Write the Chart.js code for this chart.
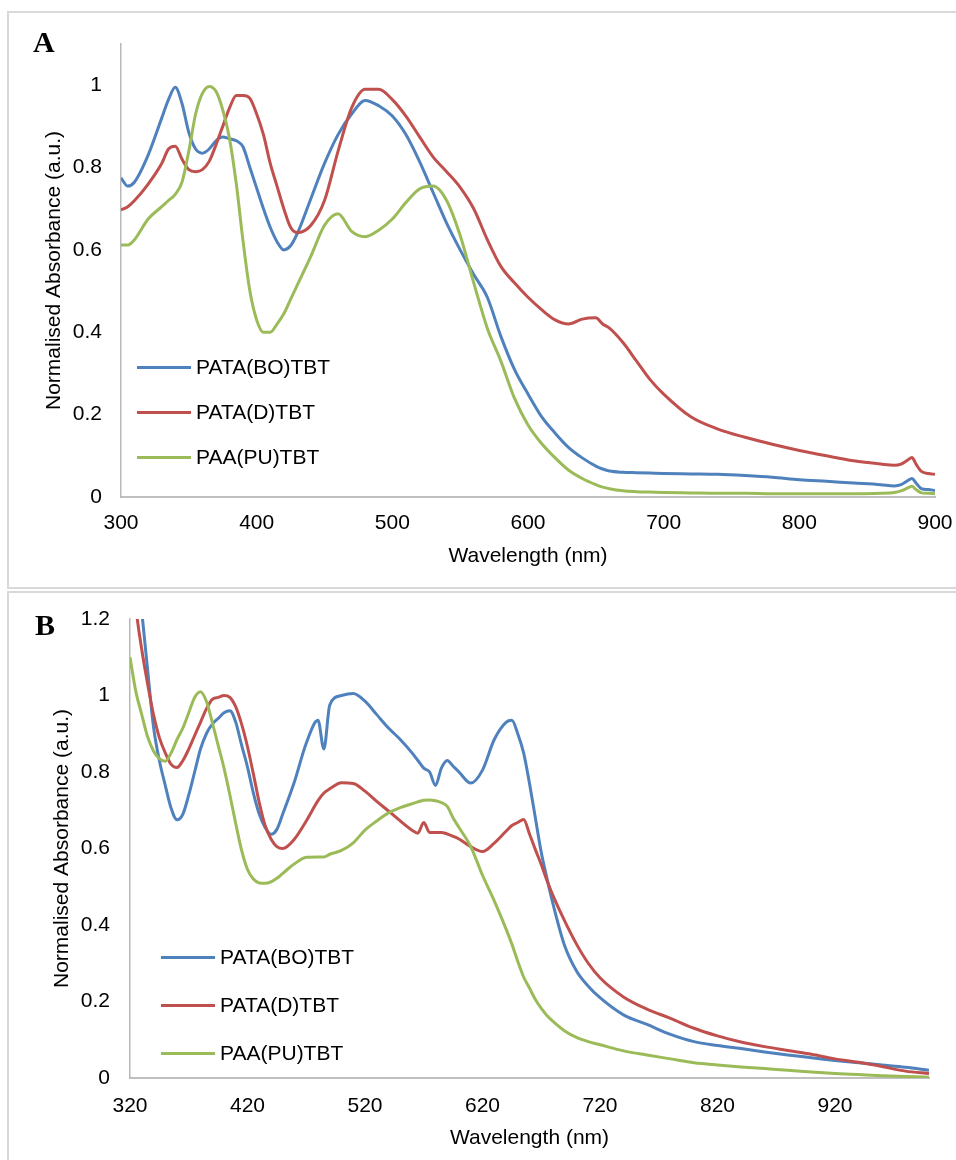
<!DOCTYPE html>
<html>
<head>
<meta charset="utf-8">
<script src="https://cdn.jsdelivr.net/npm/chart.js@4.4.0/dist/chart.umd.min.js"></script>
<style>
  body { margin: 0; width: 956px; height: 1160px; overflow: hidden; background: #fff; position: relative;
         font-family: "Liberation Sans", Arial, sans-serif; }
  .painel { position: absolute; left: 7px; width: 1000px; border: 2px solid #d9d9d9; }
  #painelA { top: 11px; height: 574px; }
  #painelB { top: 591px; height: 700px; }
  canvas { position: absolute; left: 0; }
  .letra { position: absolute; font-family: "Liberation Serif", "Times New Roman", serif; font-weight: bold;
           font-size: 30px; line-height: 30px; }
  .item { position: absolute; display: flex; align-items: center; height: 26px; font-size: 21px; white-space: nowrap; color: #000; }
  .item .linha { display: inline-block; width: 54px; height: 3px; margin-right: 5px; }
</style>
</head>
<body>
<div class="painel" id="painelA"></div>
<div class="painel" id="painelB"></div>
<canvas id="graficoA" width="956" height="590" style="top:0px"></canvas>
<canvas id="graficoB" width="956" height="570" style="top:590px"></canvas>
<div class="letra" style="left:33px; top:27px">A</div>
<div class="letra" style="left:35px; top:610px">B</div>
<div id="legendaA"></div>
<div id="legendaB"></div>

<script>
// nomes e cores das series
var nomes = ['PATA(BO)TBT', 'PATA(D)TBT', 'PAA(PU)TBT'];
var cores = ['#4F81BD', '#C0504D', '#9BBB59'];

// ---- Painel A ----
var comprimentoA = [300,305,310,320,330,335,340,345,350,355,360,365,370,375,380,385,390,395,400,405,410,415,420,425,430,
  440,450,460,470,480,490,500,510,520,530,540,550,560,570,580,590,600,610,620,630,640,650,655,660,670,680,690,700,
  720,740,760,780,800,820,840,860,870,875,880,883,886,890,895,900];

var boA = [0.775,0.755,0.765,0.83,0.92,0.965,0.995,0.955,0.885,0.845,0.835,0.845,0.865,0.874,0.87,0.865,0.85,0.80,0.75,0.70,0.655,0.62,0.60,0.61,0.64,
  0.725,0.81,0.88,0.93,0.963,0.95,0.925,0.88,0.815,0.74,0.665,0.60,0.54,0.485,0.39,0.31,0.25,0.195,0.155,0.12,0.095,0.075,0.068,0.063,0.06,0.059,0.058,0.057,
  0.056,0.055,0.052,0.048,0.042,0.038,0.034,0.03,0.027,0.03,0.04,0.045,0.034,0.02,0.018,0.016];

var dA = [0.697,0.705,0.72,0.76,0.81,0.845,0.852,0.82,0.795,0.79,0.795,0.815,0.855,0.9,0.945,0.975,0.975,0.968,0.93,0.88,0.81,0.755,0.70,0.655,0.642,
  0.66,0.72,0.84,0.945,0.99,0.99,0.965,0.925,0.875,0.826,0.79,0.752,0.70,0.625,0.56,0.52,0.485,0.455,0.43,0.42,0.432,0.435,0.42,0.41,0.375,0.33,0.285,0.25,
  0.195,0.165,0.145,0.128,0.113,0.1,0.088,0.08,0.077,0.08,0.09,0.096,0.08,0.062,0.057,0.055];

var puA = [0.612,0.612,0.625,0.675,0.705,0.72,0.735,0.765,0.84,0.93,0.98,0.997,0.985,0.94,0.87,0.76,0.62,0.50,0.43,0.40,0.40,0.42,0.445,0.48,0.515,
  0.585,0.66,0.688,0.645,0.632,0.648,0.675,0.715,0.748,0.755,0.72,0.635,0.52,0.41,0.33,0.24,0.175,0.13,0.095,0.065,0.045,0.03,0.024,0.02,0.015,0.013,0.012,0.011,
  0.01,0.009,0.009,0.008,0.008,0.008,0.008,0.009,0.011,0.015,0.022,0.026,0.018,0.01,0.009,0.008];

var xTicksA = [300, 400, 500, 600, 700, 800, 900];
var yTicksA = [0, 0.2, 0.4, 0.6, 0.8, 1];

// ---- Painel B ----
var comprimentoB = [320,325,330,335,340,345,350,355,360,365,370,375,380,385,390,395,400,405,410,415,420,425,430,435,440,445,450,
  460,470,480,485,490,500,510,520,530,540,550,560,565,570,575,580,585,590,595,600,610,620,630,640,645,650,655,660,665,670,675,680,
  690,700,710,720,740,760,780,800,820,840,860,880,900,920,940,960,980,1000];

var boB = [1.55,1.38,1.22,1.067,0.918,0.83,0.765,0.705,0.675,0.69,0.74,0.80,0.86,0.9,0.925,0.94,0.955,0.96,0.93,0.87,0.813,0.745,0.69,0.655,0.637,0.65,0.69,
  0.775,0.875,0.935,0.86,0.975,1.0,1.005,0.985,0.95,0.915,0.885,0.85,0.83,0.81,0.8,0.765,0.81,0.83,0.815,0.8,0.771,0.805,0.885,0.93,0.935,0.9,0.85,0.77,0.68,0.59,0.52,0.455,
  0.345,0.28,0.24,0.21,0.165,0.14,0.114,0.095,0.085,0.077,0.068,0.06,0.053,0.046,0.04,0.034,0.028,0.02];

var dB = [1.4,1.23,1.12,1.03,0.95,0.89,0.85,0.82,0.812,0.83,0.86,0.895,0.93,0.965,0.99,0.995,1.0,0.995,0.97,0.925,0.866,0.795,0.72,0.66,0.625,0.605,0.60,
  0.625,0.672,0.725,0.745,0.756,0.772,0.77,0.75,0.723,0.698,0.672,0.648,0.64,0.668,0.642,0.642,0.642,0.638,0.632,0.625,0.605,0.592,0.614,0.645,0.66,0.668,0.676,0.638,0.597,0.558,0.515,0.477,
  0.41,0.35,0.3,0.262,0.212,0.18,0.156,0.13,0.11,0.094,0.082,0.072,0.062,0.05,0.041,0.03,0.018,0.012];

var puB = [1.1,1.01,0.95,0.892,0.855,0.835,0.828,0.85,0.885,0.915,0.955,0.995,1.01,0.985,0.93,0.87,0.81,0.74,0.665,0.595,0.545,0.52,0.51,0.509,0.513,0.522,0.535,
  0.56,0.577,0.578,0.578,0.585,0.595,0.615,0.648,0.672,0.693,0.707,0.717,0.722,0.726,0.727,0.725,0.72,0.71,0.68,0.655,0.605,0.53,0.463,0.39,0.35,0.305,0.264,0.235,0.205,0.182,0.163,0.148,
  0.123,0.106,0.095,0.087,0.071,0.06,0.05,0.04,0.034,0.029,0.025,0.02,0.016,0.012,0.009,0.006,0.004,0.002];

var xTicksB = [320, 420, 520, 620, 720, 820, 920];
var yTicksB = [0, 0.2, 0.4, 0.6, 0.8, 1, 1.2];

Chart.defaults.font.family = '"Liberation Sans", Arial, sans-serif';
Chart.defaults.font.size = 21;
Chart.defaults.color = '#000';

function plotarGrafico(idCanvas, comprimentos, series, cfg) {
    var datasets = [];
    for (var i = 0; i < series.length; i++) {
        var pontos = [];
        for (var j = 0; j < comprimentos.length; j++) {
            pontos.push({ x: comprimentos[j], y: series[i][j] });
        }
        datasets.push({
            label: nomes[i],
            data: pontos,
            borderColor: cores[i],
            borderWidth: 3,
            pointRadius: 0,
            cubicInterpolationMode: 'monotone',
            order: series.length - i   // verde por cima, como no Excel
        });
    }

    return new Chart(document.getElementById(idCanvas), {
        type: 'line',
        data: { datasets: datasets },
        options: {
            responsive: false,
            animation: false,
            layout: { padding: { left: 0, top: cfg.topo, right: cfg.direita, bottom: 0 } },
            plugins: { legend: { display: false }, tooltip: { enabled: false } },
            scales: {
                x: {
                    type: 'linear',
                    min: cfg.xMin,
                    max: cfg.xMax,
                    grid: { display: false, drawTicks: false },
                    border: { color: '#c0c0c0', width: 2 },
                    ticks: { padding: cfg.padX, maxRotation: 0, autoSkip: false },
                    afterBuildTicks: function (scale) {
                        scale.ticks = cfg.xTicks.map(function (v) { return { value: v }; });
                    },
                    afterFit: function (scale) {
                        scale.height = cfg.alturaX;
                        // sem folga extra para o rotulo 900
                        scale.paddingLeft = 0;
                        scale.paddingRight = 0;
                    },
                    title: { display: true, text: 'Wavelength (nm)', padding: { top: 0, bottom: cfg.tituloX } }
                },
                y: {
                    min: 0,
                    max: cfg.yMax,
                    grid: { display: false, drawTicks: false },
                    border: { color: '#b8b8b8', width: 1.5 },
                    ticks: {
                        padding: cfg.padY,
                        callback: function (v) { return String(Math.round(v * 10) / 10); }
                    },
                    afterBuildTicks: function (scale) {
                        scale.ticks = cfg.yTicks.map(function (v) { return { value: v }; });
                    },
                    afterFit: function (scale) {
                        scale.width = cfg.larguraY;
                        scale.paddingTop = 0;
                        scale.paddingBottom = 0;
                    },
                    title: { display: true, text: 'Normalised Absorbance (a.u.)', padding: { top: cfg.tituloY, bottom: 0 } }
                }
            }
        }
    });
}

// legenda em html, dentro da area do grafico
function montarLegenda(grafico, idDiv, esquerda, topos) {
    var div = document.getElementById(idDiv);
    grafico.data.datasets.forEach(function (ds, i) {
        var item = document.createElement('div');
        item.className = 'item';
        item.style.left = esquerda + 'px';
        item.style.top = topos[i] + 'px';
        item.innerHTML = '<span class="linha" style="background:' + ds.borderColor + '"></span>' + ds.label;
        div.appendChild(item);
    });
}

var graficoA = plotarGrafico('graficoA', comprimentoA, [boA, dA, puA], {
    xMin: 300, xMax: 900, yMax: 1.1, xTicks: xTicksA, yTicks: yTicksA,
    topo: 44, direita: 21, larguraY: 121, alturaX: 93,
    padX: 14, padY: 19, tituloX: 21, tituloY: 42
});

var graficoB = plotarGrafico('graficoB', comprimentoB, [boB, dB, puB], {
    xMin: 320, xMax: 1000, yMax: 1.2, xTicks: xTicksB, yTicks: yTicksB,
    topo: 29, direita: 27, larguraY: 130, alturaX: 82,
    padX: 16, padY: 20, tituloX: 9, tituloY: 50
});

montarLegenda(graficoA, 'legendaA', 137, [354, 399, 444]);
montarLegenda(graficoB, 'legendaB', 161, [944, 992, 1040]);
</script>
</body>
</html>
